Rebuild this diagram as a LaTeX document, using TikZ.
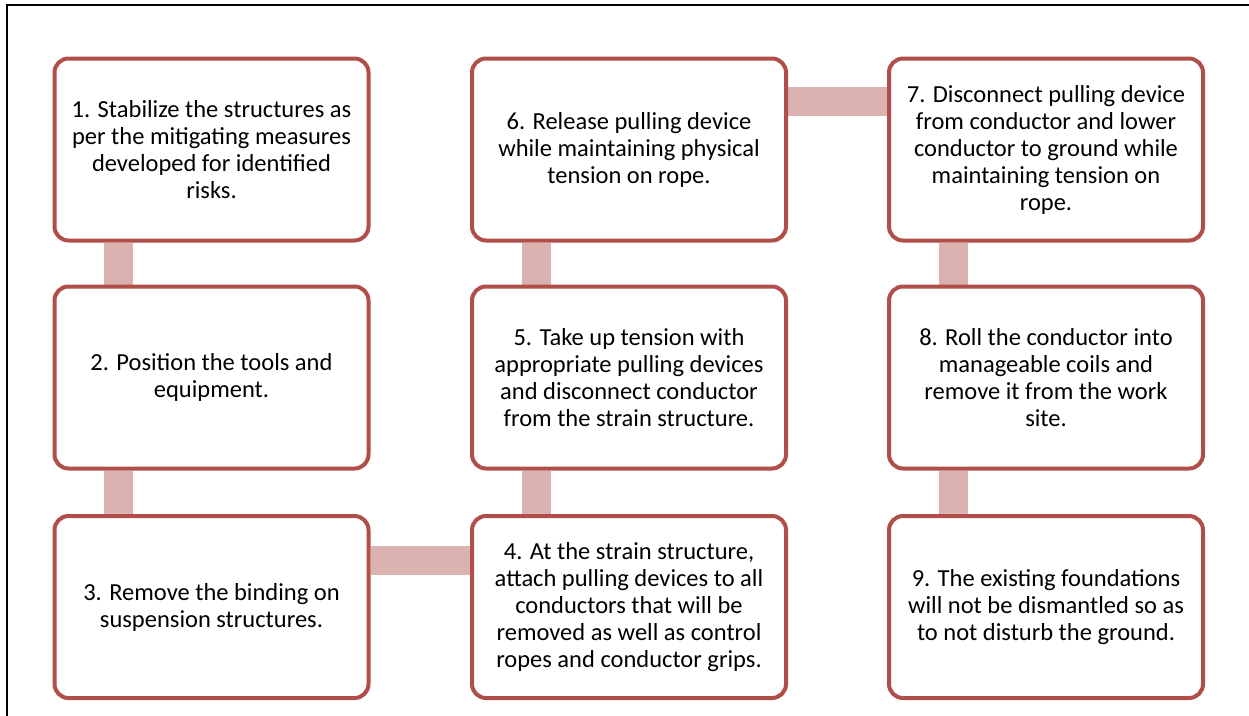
\documentclass[tikz,border=0pt]{standalone}
\usepackage{fontspec}
\setmainfont{Carlito}
\usetikzlibrary{calc,backgrounds}
\definecolor{boxred}{RGB}{176,78,74}
\definecolor{connpink}{RGB}{220,178,177}
\tikzset{
  stepbox/.style={draw=boxred, line width=4pt, rounded corners=14pt, fill=white,
    minimum width=314pt, minimum height=182pt, align=center, inner sep=0pt,
    font=\fontsize{24.5}{27}\selectfont, text=black},
  conn/.style={draw=connpink, line width=29pt}
}
\begin{document}
\begin{tikzpicture}[x=1pt,y=-1pt]
\useasboundingbox (0,0) rectangle (1249,715);
\draw[line width=2pt] (7,720) -- (7,5) -- (1255,5);
% boxes
\node[stepbox] (b1) at (211.5,149.5) {1. Stabilize the structures as\\per the mitigating measures\\developed for identified\\risks.};
\node[stepbox] (b2) at (211.5,377.5) {2. Position the tools and\\equipment.};
\node[stepbox] (b3) at (211.5,607) {3. Remove the binding on\\suspension structures.};
\node[stepbox] (b4) at (629,607) {4. At the strain structure,\\attach pulling devices to all\\conductors that will be\\removed as well as control\\ropes and conductor grips.};
\node[stepbox] (b5) at (629,377.5) {5. Take up tension with\\appropriate pulling devices\\and disconnect conductor\\from the strain structure.};
\node[stepbox] (b6) at (629,149.5) {6. Release pulling device\\while maintaining physical\\tension on rope.};
\node[stepbox] (b7) at (1046,149.5) {7. Disconnect pulling device\\from conductor and lower\\conductor to ground while\\maintaining tension on\\rope.};
\node[stepbox] (b8) at (1046,377.5) {8. Roll the conductor into\\manageable coils and\\remove it from the work\\site.};
\node[stepbox] (b9) at (1046,607) {9. The existing foundations\\will not be dismantled so as\\to not disturb the ground.};
% connectors
\begin{scope}[on background layer]
\draw[conn] ($(b1.south west)+(66,0)$) -- ($(b2.north west)+(66,0)$);
\draw[conn] ($(b2.south west)+(66,0)$) -- ($(b3.north west)+(66,0)$);
\draw[conn] ($(b3.north east)+(0,46)$) -- ($(b4.north west)+(0,46)$);
\draw[conn] ($(b4.north west)+(66,0)$) -- ($(b5.south west)+(66,0)$);
\draw[conn] ($(b5.north west)+(66,0)$) -- ($(b6.south west)+(66,0)$);
\draw[conn] ($(b6.north east)+(0,45)$) -- ($(b7.north west)+(0,45)$);
\draw[conn] ($(b7.south west)+(66,0)$) -- ($(b8.north west)+(66,0)$);
\draw[conn] ($(b8.south west)+(66,0)$) -- ($(b9.north west)+(66,0)$);
\end{scope}
\end{tikzpicture}
\end{document}
